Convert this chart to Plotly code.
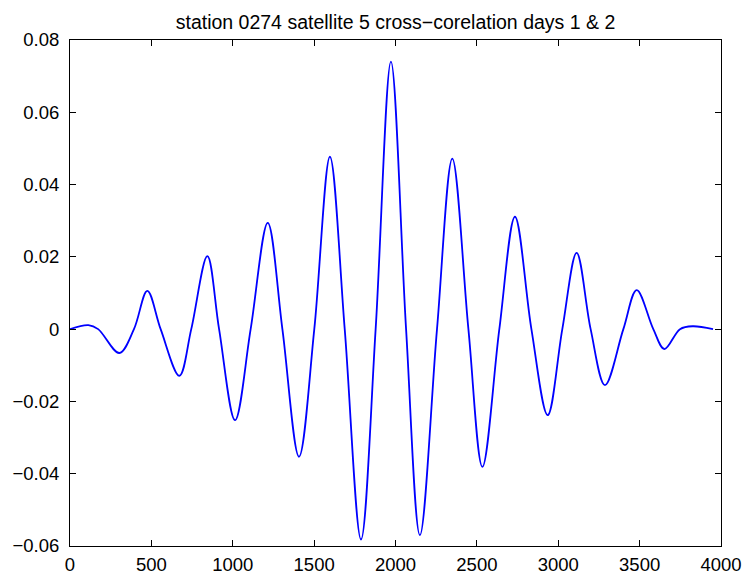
import plotly.graph_objects as go

# Lag index (samples) of extrema and zero crossings
lag = [0, 113, 173, 303, 393, 475, 557, 672, 745, 844, 916, 1014, 1110, 1215,
       1305, 1407, 1501, 1597, 1688, 1788, 1878, 1972, 2065, 2150, 2255, 2349,
       2448, 2534, 2638, 2734, 2835, 2935, 3025, 3113, 3199, 3287, 3400, 3482,
       3584, 3652, 3748, 3826, 3951]
corr = [0, 0.0011, 0, -0.0066, 0, 0.0106, 0, -0.0129, 0, 0.0202, 0, -0.0252,
        0, 0.0294, 0, -0.0353, 0, 0.0477, 0, -0.0582, 0, 0.074, 0, -0.057, 0,
        0.0472, 0, -0.0381, 0, 0.0311, 0, -0.0238, 0, 0.0211, 0, -0.0155, 0,
        0.0108, 0, -0.0055, 0, 0.0008, 0]

x_ticks = [0, 500, 1000, 1500, 2000, 2500, 3000, 3500, 4000]
y_ticks = [-0.06, -0.04, -0.02, 0, 0.02, 0.04, 0.06, 0.08]
y_tick_text = ["\u22120.06", "\u22120.04", "\u22120.02", "0", "0.02", "0.04", "0.06", "0.08"]
title_text = "station 0274 satellite 5 cross\u2212corelation days 1 & 2"

fig = go.Figure()
fig.add_trace(go.Scatter(
    x=lag, y=corr, mode="lines",
    line=dict(color="#0000ff", width=1.8, shape="spline", smoothing=1.0),
    showlegend=False, hoverinfo="skip"))

tick_font = dict(family="Liberation Sans, Arial, sans-serif", size=18.5, color="black")
title_font = dict(family="Liberation Sans, Arial, sans-serif", size=19.5, color="black")
axis_common = dict(showgrid=False, zeroline=False, showline=True, linecolor="black",
                   linewidth=1, mirror="ticks", ticks="inside", ticklen=6,
                   tickcolor="black", tickwidth=1, tickfont=tick_font,
                   automargin=False)

fig.update_layout(
    width=747, height=579,
    margin=dict(l=70, r=26, t=40, b=33),
    paper_bgcolor="white", plot_bgcolor="white",
    title=dict(text=title_text, font=title_font, x=(70 + 721) / 2 / 747, xanchor="center",
               y=1 - 29 / 579, yanchor="bottom", automargin=False),
    xaxis=dict(range=[0, 4000], tickvals=x_ticks, ticklabelstandoff=2, **axis_common),
    yaxis=dict(range=[-0.06, 0.08], tickvals=y_ticks, ticktext=y_tick_text,
               ticklabelstandoff=6, **axis_common),
)

fig.write_html("out.html")
